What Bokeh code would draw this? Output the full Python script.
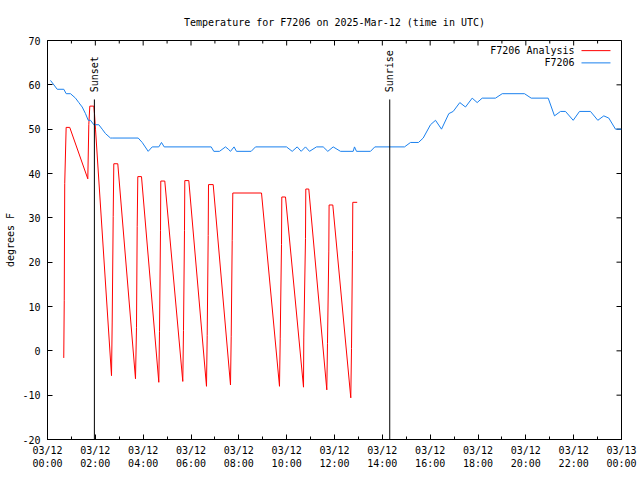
import math
from bokeh.plotting import figure
from bokeh.models import FixedTicker, Range1d
from bokeh.core.properties import value
from bokeh.embed import file_html
from bokeh.resources import INLINE

FONT = "DejaVu Sans Mono"

# ---- data (time in hours UTC on 2025-03-12, temperature in degrees F) ----
obs_hours = [0.125, 0.406, 0.682, 0.782, 0.962, 1.171, 1.309, 1.451, 1.589, 1.702,
             1.798, 1.936, 2.145, 2.287, 2.425, 2.634, 2.705, 3.792, 3.960, 4.210,
             4.378, 4.654, 4.766, 4.879, 6.845, 6.953, 7.192, 7.442, 7.555, 7.651,
             7.800, 7.902, 8.517, 8.697, 9.993, 10.231, 10.440, 10.607, 10.787, 10.955,
             11.247, 11.528, 11.720, 11.945, 12.251, 12.782, 12.836, 12.920, 13.505, 13.685,
             14.927, 15.178, 15.512, 15.709, 16.014, 16.223, 16.474, 16.779, 16.963, 17.239,
             17.477, 17.757, 17.966, 18.175, 18.731, 19.012, 19.944, 20.224, 20.935, 21.198,
             21.449, 21.658, 21.980, 22.244, 22.703, 23.009, 23.260, 23.469, 23.749, 24.0]
obs_temps = [61, 59, 59, 58, 58, 57, 56, 55, 53.5, 52,
             52, 51, 51, 50, 49, 48, 48, 48, 47, 45,
             46, 46, 47, 46, 46, 45, 45, 46, 45.5, 45,
             46, 45, 45, 46, 46, 45, 46, 45, 46, 45,
             46, 46, 45, 46, 45, 45, 46, 45, 45, 46,
             46, 47, 47, 48, 51, 52, 50, 53.5, 54, 56,
             55, 57, 56, 57, 57, 58, 58, 57, 57, 53,
             54, 54, 52, 54, 54, 52, 53, 52.5, 50, 50]

ana_hours = [0.68, 0.70, 0.72, 0.78, 0.93, 1.685, 1.727, 1.769, 1.936, 1.965, 2.007, 2.676,
             2.705, 2.747, 2.772, 2.939, 3.679,
             3.721, 3.750, 3.776, 3.930, 4.654,
             4.683, 4.725, 4.737, 4.904, 5.657,
             5.686, 5.728, 5.741, 5.908, 6.648,
             6.677, 6.719, 6.732, 6.928, 7.651,
             7.681, 7.723, 7.748, 8.948, 9.700,
             9.730, 9.784, 9.797, 9.951, 10.704,
             10.716, 10.787, 10.800, 10.925, 11.678,
             11.707, 11.762, 11.774, 11.929, 12.681,
             12.711, 12.752, 12.765, 12.949]
ana_temps = [-1.6, 11.3, 37.7, 50.4, 50.4, 38.8, 51.0, 55.2, 55.2, 53.5, 50.0, -5.6,
             6.5, 30.3, 42.2, 42.2, -6.3,
             5.2, 28.0, 39.3, 39.3, -7.1,
             4.4, 27.1, 38.3, 38.3, -6.9,
             4.6, 27.1, 38.4, 38.4, -8.0,
             3.5, 26.0, 37.5, 37.5, -7.7,
             3.3, 24.9, 35.6, 35.6, -8.0,
             2.7, 24.0, 34.7, 34.7, -8.2,
             2.9, 25.3, 36.5, 36.5, -8.8,
             1.7, 22.5, 32.9, 32.9, -10.6,
             0.5, 22.6, 33.5, 33.5]

sun_names = ["Sunset", "Sunrise"]
sun_hours = [1.96, 14.31]
sun_line_top = 56.7

series_names = ["F7206 Analysis", "F7206"]
series_colors = ["#ff0000", "#1a80ee"]

x_ticks = [0, 2, 4, 6, 8, 10, 12, 14, 16, 18, 20, 22, 24]
x_tick_labels = ["03/12\n00:00", "03/12\n02:00", "03/12\n04:00", "03/12\n06:00",
                 "03/12\n08:00", "03/12\n10:00", "03/12\n12:00", "03/12\n14:00",
                 "03/12\n16:00", "03/12\n18:00", "03/12\n20:00", "03/12\n22:00",
                 "03/13\n00:00"]
x_minor = list(range(0, 25))
y_ticks = [-20, -10, 0, 10, 20, 30, 40, 50, 60, 70]
y_tick_labels = ["-20", "-10", "0", "10", "20", "30", "40", "50", "60", "70"]

X0, X1, Y0, Y1 = 0, 24, -20, 70
W, H = 640, 480
BL, BR, BT, BB = 47, 19, 40, 41

p = figure(width=W, height=H, x_range=Range1d(X0, X1), y_range=Range1d(Y0, Y1),
           output_backend="svg", toolbar_location=None,
           min_border_left=BL, min_border_right=BR, min_border_top=BT, min_border_bottom=BB,
           title="Temperature for F7206 on 2025-Mar-12 (time in UTC)")
p.title.align = "center"
p.title.text_font = FONT
p.title.text_font_size = "10px"
p.title.text_font_style = "normal"
p.title.text_color = "black"
p.title.standoff = 25
p.xgrid.visible = False
p.ygrid.visible = False
p.outline_line_color = "black"
p.outline_line_alpha = 1
p.background_fill_color = "white"
p.border_fill_color = "white"

def style_axis(ax, ticks, minor, labels):
    ax.ticker = FixedTicker(ticks=ticks, minor_ticks=minor)
    ax.major_tick_in = 5
    ax.major_tick_out = 0
    ax.minor_tick_in = 3
    ax.minor_tick_out = 0
    ax.major_tick_line_color = "black"
    ax.minor_tick_line_color = "black"
    ax.axis_line_color = "black"
    ax.major_label_text_font = FONT
    ax.major_label_text_font_size = "10px"
    ax.major_label_text_color = "black"
    ax.major_label_overrides = {t: l for t, l in zip(ticks, labels)}

xa = p.xaxis[0]
style_axis(xa, x_ticks, x_minor, x_tick_labels)
xa.major_label_standoff = 5
ya = p.yaxis[0]
style_axis(ya, y_ticks, [], y_tick_labels)
ya.major_label_standoff = 7
ya.axis_label = "degrees F"
ya.axis_label_text_font = FONT
ya.axis_label_text_font_size = "10px"
ya.axis_label_text_font_style = "normal"
ya.axis_label_text_color = "black"
ya.axis_label_standoff = 3

# mirrored inward ticks on top and right borders (gnuplot style), lengths in px -> data units
fw, fh = W - BL - BR, H - BT - BB
dx_major = 5 * (X1 - X0) / fw
dy_major, dy_minor = 5 * (Y1 - Y0) / fh, 3 * (Y1 - Y0) / fh
top_minor = [m for m in x_minor if m not in x_ticks]
p.segment(x0=x_ticks, y0=[Y1] * len(x_ticks), x1=x_ticks, y1=[Y1 - dy_major] * len(x_ticks),
          line_color="black", line_width=1)
p.segment(x0=top_minor, y0=[Y1] * len(top_minor), x1=top_minor, y1=[Y1 - dy_minor] * len(top_minor),
          line_color="black", line_width=1)
p.segment(x0=[X1] * len(y_ticks), y0=y_ticks, x1=[X1 - dx_major] * len(y_ticks), y1=y_ticks,
          line_color="black", line_width=1)

# data lines
p.line(ana_hours, ana_temps, line_color=series_colors[0], line_width=1)
p.line(obs_hours, obs_temps, line_color=series_colors[1], line_width=1)

# sunset / sunrise markers
p.segment(x0=sun_hours, y0=[Y0] * len(sun_hours), x1=sun_hours, y1=[sun_line_top] * len(sun_hours),
          line_color="black", line_width=1)
p.text(x=sun_hours, y=[sun_line_top + 1.6] * len(sun_hours), text=sun_names, angle=math.pi / 2,
       text_align="left", text_baseline="middle", text_font=value(FONT),
       text_font_size="10px", text_color="black")

# legend (gnuplot style: label then sample line), placed relative to the frame
xspan, yspan = X1 - X0, Y1 - Y0
leg_text_x = X1 - 0.0818 * xspan
leg_line_x0 = X1 - 0.0697 * xspan
leg_line_x1 = X1 - 0.0192 * xspan
leg_y = [Y1 - 0.0254 * yspan, Y1 - 0.0561 * yspan]
p.text(x=[leg_text_x] * 2, y=leg_y, text=series_names, text_align="right",
       text_baseline="middle", text_font=value(FONT), text_font_size="10px",
       text_color="black")
p.segment(x0=[leg_line_x0] * 2, y0=leg_y, x1=[leg_line_x1] * 2, y1=leg_y,
          line_color=series_colors, line_width=1)

open("out.html", "w").write(file_html(p, INLINE))
